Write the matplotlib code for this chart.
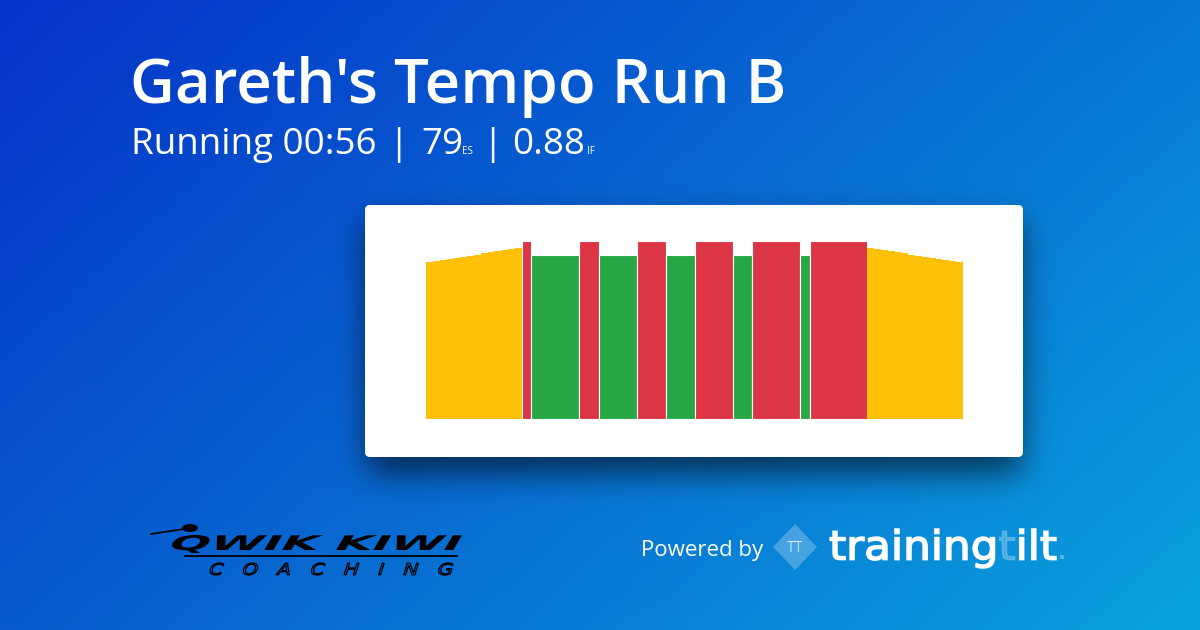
import numpy as np
import matplotlib
matplotlib.use("Agg")
import matplotlib.pyplot as plt
from matplotlib.patches import FancyBboxPatch, PathPatch, Polygon, Rectangle, Ellipse
from matplotlib.textpath import TextPath, TextToPath
from matplotlib.font_manager import FontProperties
from matplotlib.transforms import Affine2D
from matplotlib.path import Path

# workout data (minutes, intensity as % of the hardest block)
warmup_minutes = 10
warmup_levels = [88.2, 88.8, 89.4, 90.0, 90.6, 91.2, 91.8, 92.4, 93.0, 93.6, 94.2, 94.8, 95.4, 96.1]
interval_minutes = [1, 5, 2, 4, 3, 3, 4, 2, 5, 1, 6]
interval_levels = [100, 92, 100, 92, 100, 92, 100, 92, 100, 92, 100]
cooldown_minutes = 10
cooldown_levels = [96.1, 95.4, 94.8, 94.2, 93.6, 93.0, 92.4, 91.8, 91.2, 90.6, 90.0, 89.4, 88.8, 88.2]

title = "Gareth's Tempo Run B"
sub_parts = ["Running 00:56", "|", "79", "ES", "|", "0.88", "IF"]

YELLOW = "#ffc107"
GREEN = "#28a745"
RED = "#dc3545"

W, H = 1200, 630

# background gradient
xx, yy = np.meshgrid(np.linspace(0, 1, W), np.linspace(0, 1, H))
c_tl = np.array([5, 50, 200]) / 255
c_tr = np.array([8, 120, 212]) / 255
c_bl = np.array([8, 90, 205]) / 255
c_br = np.array([10, 162, 222]) / 255
img = ((1 - xx) * (1 - yy))[..., None] * c_tl + (xx * (1 - yy))[..., None] * c_tr \
    + ((1 - xx) * yy)[..., None] * c_bl + (xx * yy)[..., None] * c_br


def blur(a, s):
    r = int(3 * s)
    k = np.exp(-0.5 * (np.arange(-r, r + 1) / s) ** 2)
    k /= k.sum()
    a = np.apply_along_axis(lambda v: np.convolve(v, k, mode="same"), 0, a)
    a = np.apply_along_axis(lambda v: np.convolve(v, k, mode="same"), 1, a)
    return a


# card shadow
card_x0, card_y0, card_x1, card_y1 = 365, 205, 1023, 457
mask = np.zeros((H, W))
mask[card_y0 + 16:card_y1 + 16, card_x0 + 2:card_x1 - 2] = 1
mask = blur(mask, 16)
img = img * (1 - 0.6 * mask)[..., None]

fig = plt.figure(figsize=(12, 6.3), dpi=100)
bg = fig.add_axes([0, 0, 1, 1])
bg.imshow(img, extent=(0, W, H, 0), aspect="auto", interpolation="bilinear")
bg.set_xlim(0, W)
bg.set_ylim(H, 0)
bg.axis("off")

card = FancyBboxPatch((card_x0, card_y0), card_x1 - card_x0, card_y1 - card_y0,
                      boxstyle="round,pad=0,rounding_size=5", fc="white", ec="none")
bg.add_patch(card)

# title and subtitle
bg.text(130, 103, title, color="white", fontsize=44.5, family="Open Sans", weight=600, va="baseline")
sub_x = [131, 398, 421, 462, 492, 512, 587]
for s, x in zip(sub_parts, sub_x):
    small = s in ("ES", "IF")
    bg.text(x, 154, s, color="white", fontsize=7 if small else 26.5, family="Open Sans",
            va="baseline", ha="center" if s == "|" else "left")


def fit(path, x0, x1, y0, y1):
    bb = path.get_extents()
    return Affine2D().translate(-bb.x0, -bb.y0).scale((x1 - x0) / bb.width, -(y1 - y0) / bb.height).translate(x0, y1)


# Qwik Kiwi logo
fp_bold = FontProperties(family="DejaVu Sans", weight="bold")
qk = TextPath((0, 0), "QWIK KIWI", size=100, prop=fp_bold)
qk = qk.transformed(Affine2D().skew_deg(14, 0))
bg.add_patch(PathPatch(fit(qk, 172, 462, 535, 553).transform_path(qk), fc="black", ec="none"))
bg.plot([185, 457], [556, 556], color="black", lw=1.3)
fp_thin = FontProperties(family="DejaVu Sans")
co = TextPath((0, 0), "C   O   A   C   H   I   N   G", size=100, prop=fp_thin)
co = co.transformed(Affine2D().skew_deg(14, 0))
bg.add_patch(PathPatch(fit(co, 210, 453, 563, 575).transform_path(co), fc="none", ec="black", lw=0.9))
bg.add_patch(Ellipse((190, 528), 16, 8, fc="black", ec="none"))
bg.plot([151, 184], [534, 529], color="black", lw=1.2)

# Powered by trainingtilt
bg.text(641, 556, "Powered by", color="white", fontsize=16, family="Open Sans", va="baseline")
bg.add_patch(Polygon([[773, 547], [795, 524], [817, 547], [795, 570]], closed=True,
                     fc="white", alpha=0.25, ec="none"))
bg.text(795, 548, "TT", color="white", fontsize=11, family="Open Sans", weight=300,
        ha="center", va="center")

fp_tt = FontProperties(family="DejaVu Sans", size=100)
t2p = TextToPath()
pieces = ["training", "t", "ilt"]
alphas = [1, 0.25, 1]
paths = []
xoff = 0
for p in pieces:
    paths.append(TextPath((xoff, 0), p, size=100, prop=fp_tt))
    xoff += t2p.get_text_width_height_descent(p, fp_tt, ismath=False)[0]
whole = Path(np.vstack([p.vertices for p in paths]))
tr = fit(whole, 829, 1056, 529, 568)
for p, a in zip(paths, alphas):
    bg.add_patch(PathPatch(tr.transform_path(p), fc="white", ec="white", lw=1.1, alpha=a))
bg.add_patch(Rectangle((1060, 555), 4, 4, fc="white", alpha=0.3, ec="none"))

# workout chart
ax = fig.add_axes([426 / W, (H - 419) / H, (963 - 426) / W, 178 / H])
ax.set_xlim(0, 56)
ax.set_ylim(0, 100)
ax.axis("off")

t = 0
step = warmup_minutes / len(warmup_levels)
for lvl in warmup_levels:
    ax.bar(t, lvl, width=step, align="edge", color=YELLOW, linewidth=0)
    t += step
for dur, lvl in zip(interval_minutes, interval_levels):
    ax.bar(t, lvl, width=dur, align="edge", color=RED if lvl >= 100 else GREEN,
           edgecolor="white", linewidth=0.8)
    t += dur
step = cooldown_minutes / len(cooldown_levels)
for lvl in cooldown_levels:
    ax.bar(t, lvl, width=step, align="edge", color=YELLOW, linewidth=0)
    t += step

fig.savefig("out.png", dpi=100)
